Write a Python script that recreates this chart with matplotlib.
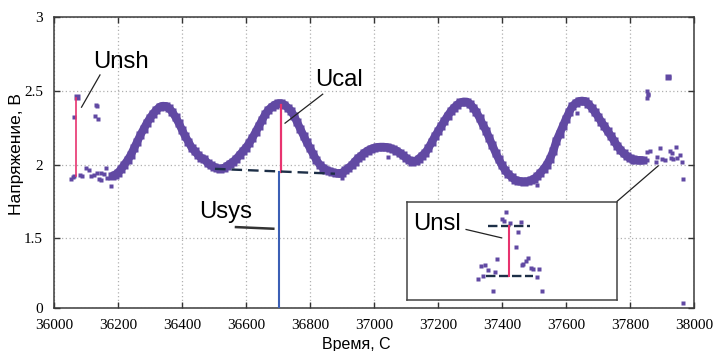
import numpy as np
import matplotlib
matplotlib.use("Agg")
import matplotlib.pyplot as plt
from matplotlib.scale import FuncScale

plt.rcParams['font.family'] = ['Liberation Sans', 'DejaVu Sans']

# ---------------- data ----------------
curve_x = list(range(36180, 37850, 10))
curve_y = [
    1.92, 1.93, 1.945, 1.97, 2.00, 2.03, 2.065, 2.11, 2.155, 2.20,
    2.24, 2.28, 2.315, 2.345, 2.37, 2.39, 2.397, 2.395, 2.38, 2.355,
    2.32, 2.28, 2.235, 2.19, 2.155, 2.115, 2.09, 2.065, 2.045, 2.035,
    2.01, 1.995, 1.985, 1.975, 1.972, 1.975, 1.99, 2.005, 2.02, 2.04,
    2.065, 2.09, 2.115, 2.145, 2.18, 2.22, 2.26, 2.30, 2.34, 2.37,
    2.39, 2.405, 2.413, 2.413, 2.405, 2.385, 2.365, 2.33, 2.285, 2.24,
    2.195, 2.15, 2.11, 2.07, 2.03, 2.00, 1.98, 1.965, 1.955, 1.948,
    1.943, 1.94, 1.945, 1.96, 1.978, 1.995, 2.02, 2.043, 2.06, 2.08,
    2.095, 2.105, 2.113, 2.118, 2.12, 2.12, 2.117, 2.112, 2.103, 2.095,
    2.08, 2.062, 2.045, 2.03, 2.02, 2.025, 2.04, 2.06, 2.08, 2.11,
    2.15, 2.19, 2.225, 2.26, 2.295, 2.33, 2.36, 2.385, 2.405, 2.42,
    2.426, 2.425, 2.41, 2.385, 2.355, 2.315, 2.27, 2.23, 2.18, 2.13,
    2.08, 2.035, 1.995, 1.96, 1.935, 1.915, 1.898, 1.89, 1.886, 1.885,
    1.887, 1.893, 1.905, 1.92, 1.945, 1.97, 2.00, 2.04, 2.09, 2.16,
    2.21, 2.26, 2.31, 2.355, 2.395, 2.415, 2.428, 2.432, 2.428, 2.41,
    2.385, 2.355, 2.325, 2.29, 2.26, 2.225, 2.195, 2.16, 2.128, 2.10,
    2.075, 2.058, 2.043, 2.035, 2.03, 2.03, 2.028,
]

noise_x = [36053, 36058, 36062, 36088, 36099, 36109, 36115, 36125, 36133, 36146,
           36146, 36161, 36166, 36177, 36187, 36081, 36140, 36155,
           37045, 37633, 37508, 36900,
           37807, 37823, 37854, 37854, 37862, 37880, 37883, 37894, 37901, 37909,
           37925, 37927, 37932, 37935, 37944, 37948, 37956, 37962,
           37852, 37855, 37857, 37852, 37918, 37922, 37967, 37967,
           36062, 36130, 36133, 36127, 36138]
noise_y = [1.90, 1.915, 1.92, 1.924, 1.975, 1.964, 1.92, 1.93, 1.94, 1.94,
           1.897, 1.975, 1.908, 1.856, 1.92, 1.93, 1.905, 1.935,
           2.05, 2.347, 1.86, 1.91,
           2.02, 2.036, 2.03, 2.088, 2.095, 2.014, 2.054, 2.11, 2.036, 2.03,
           2.095, 2.043, 2.08, 2.036, 2.12, 2.043, 2.066, 2.02,
           2.50, 2.48, 2.47, 2.45, 2.59, 2.595, 1.90, 0.12,
           2.32, 2.40, 2.395, 2.33, 2.305]
big_x = [36071, 37920]
big_y = [2.46, 2.592]

# annotation geometry (data units)
unsh_x, unsh_y0, unsh_y1 = 36069, 1.92, 2.45
ucal_x, ucal_y0, ucal_y1 = 36710, 1.953, 2.40
usys_x, usys_y0, usys_y1 = 36703, 0.0, 1.953
base_x = [36503, 36878]
base_y = [1.971, 1.938]

# inset data (inset's own units)
ins_x = [47.0, 45.1, 46.2, 49.1, 54.1, 53.0, 51.9, 43.0, 57.7, 56.6, 55.4, 54.9,
         35.1, 37.2, 38.5, 41.9, 58.9, 60.1, 63.0, 34.0, 36.1, 61.7, 41.1, 64.1]
ins_y = [89.1, 81.9, 80.5, 77.8, 78.8, 69.2, 53.2, 41.9, 42.9, 39.4, 36.7, 34.9,
         34.2, 34.9, 30.5, 28.5, 32.6, 30.8, 31.1, 21.3, 23.6, 22.9, 9.2, 9.2]

xticks = [36000, 36200, 36400, 36600, 36800, 37000, 37200, 37400, 37600, 37800, 38000]
yticks = [0, 1.5, 2, 2.5, 3]

purple = '#6149a3'
red = '#e8336f'
blue = '#3b5fb5'
navy = '#1d2f47'

# ---------------- y scale (compressed below 1.5) ----------------
K = 0.3148
def fwd(y):
    y = np.asarray(y, dtype=float)
    return np.where(y >= 1.5, y, 1.5 + (y - 1.5) * K)
def inv(v):
    v = np.asarray(v, dtype=float)
    return np.where(v >= 1.5, v, 1.5 + (v - 1.5) / K)

fig = plt.figure(figsize=(7.19, 3.51), dpi=100)
ax = fig.add_axes([54/719, (351-308.3)/351, 640/719, (308.3-16.7)/351])
ax.set_yscale(FuncScale(ax, (fwd, inv)))
ax.set_xlim(36000, 38000)
ax.set_ylim(0, 3)
ax.set_xticks(xticks)
ax.set_yticks(yticks)
ax.set_yticklabels(['0', '1.5', '2', '2.5', '3'])
ax.set_xticklabels([str(t) for t in xticks])
for lab in ax.get_xticklabels() + ax.get_yticklabels():
    lab.set_family('Liberation Serif')
    lab.set_fontsize(11)
ax.tick_params(direction='in', length=4, width=1, top=True, right=True,
               colors='#333333', labelcolor='black')
ax.tick_params(axis='x', pad=7.5)
ax.tick_params(axis='y', pad=8)
ax.grid(True, color='#b0b0b0', linestyle=(0, (1, 2)), linewidth=0.9)
ax.set_axisbelow(True)
for s in ax.spines.values():
    s.set_color('#3a3a3a')
    s.set_linewidth(1.1)

# data
ax.plot(curve_x, curve_y, '-', lw=5.8, color=purple, solid_capstyle='butt',
        solid_joinstyle='round', zorder=3)
ax.plot(curve_x, curve_y, 's', ms=5.8, color=purple, mec='none', zorder=3)
ax.plot(noise_x, noise_y, 's', ms=3.4, color=purple, mec='none', zorder=3)
ax.plot(big_x, big_y, 's', ms=5.0, color=purple, mec='none', zorder=3)

# annotation lines
ax.plot([unsh_x, unsh_x], [unsh_y0, unsh_y1], color=red, lw=1.2, zorder=4)
ax.plot([ucal_x, ucal_x], [ucal_y0, ucal_y1], color=red, lw=1.6, zorder=4)
ax.plot([usys_x, usys_x], [usys_y0, usys_y1], color=blue, lw=1.5, zorder=4)
ax.plot(base_x, base_y, color=navy, lw=1.7, linestyle=(0, (4.5, 2.5)), zorder=4)

ax.plot([36143.7, 36086], [2.606, 2.388], color='#222222', lw=0.9, zorder=5)
ax.plot([36839.7, 36722], [2.476, 2.28], color='#222222', lw=0.9, zorder=5)
ax.plot([36568.7, 36685.3], [1.577, 1.566], color='#333333', lw=1.8, zorder=5)
ax.plot([37760, 37888], [1.752, 1.991], color='#222222', lw=0.9, zorder=5,
        clip_on=False)

fs = 17.2
ax.text(36121, 2.651, 'Unsh', fontsize=fs, va='baseline', ha='left')
ax.text(36815.6, 2.532, 'Ucal', fontsize=fs, va='baseline', ha='left')
ax.text(36454, 1.638, 'Usys', fontsize=fs, va='baseline', ha='left')

fig.text(356/719, (351-349.5)/351, 'Время, С', fontsize=11.5, ha='center',
         va='baseline')
fig.text(16.7/719, (351-154.5)/351, 'Напряжение, В', fontsize=12.5,
         rotation=90, ha='center', va='center')

# inset
iax = fig.add_axes([406.7/719, (351-299.5)/351, 210.6/719, 97.8/351])
iax.set_xlim(0, 100)
iax.set_ylim(0, 100)
iax.set_xticks([])
iax.set_yticks([])
iax.set_facecolor('white')
for s in iax.spines.values():
    s.set_color('#444444')
    s.set_linewidth(1.1)
iax.plot(ins_x, ins_y, 's', ms=3.0, color=purple, mec='none')
iax.plot([38.5, 58.5], [75.3, 75.3], color=navy, lw=1.7, linestyle=(0, (4, 1.5)))
iax.plot([37.7, 60.1], [23.6, 23.6], color=navy, lw=1.7, linestyle=(0, (4, 1.5)))
iax.plot([48.6, 48.6], [23.6, 75.3], color=red, lw=1.5)
iax.plot([28.2, 45.1], [71.6, 63.0], color='#222222', lw=0.9)
iax.text(3.1, 70.9, 'Unsl', fontsize=fs, va='baseline', ha='left')

fig.savefig('out.png', dpi=100)
